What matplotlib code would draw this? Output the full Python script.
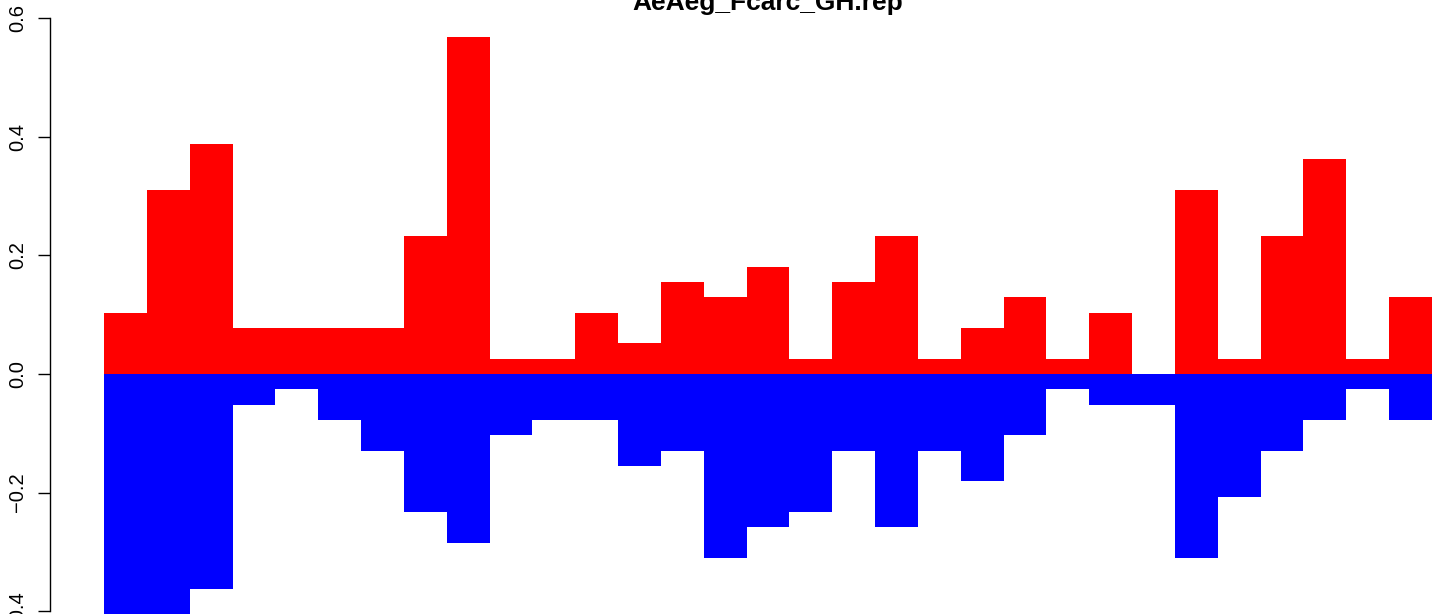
import matplotlib
matplotlib.use("Agg")
import matplotlib.pyplot as plt
import numpy as np

title = "AeAeg_Fcarc_GH.rep"
pos_vals = [0.103, 0.310, 0.388, 0.078, 0.078, 0.078, 0.078, 0.233, 0.568, 0.026,
            0.026, 0.103, 0.052, 0.155, 0.129, 0.181, 0.026, 0.155, 0.233, 0.026,
            0.078, 0.129, 0.026, 0.103, 0.0, 0.310, 0.026, 0.233, 0.362, 0.026, 0.129]
neg_vals = [-0.45, -0.45, -0.362, -0.052, -0.026, -0.078, -0.129, -0.233, -0.284, -0.103,
            -0.078, -0.078, -0.155, -0.129, -0.310, -0.258, -0.233, -0.129, -0.258, -0.129,
            -0.181, -0.103, -0.026, -0.052, -0.052, -0.310, -0.207, -0.129, -0.078, -0.026, -0.078]
yticks = [-0.4, -0.2, 0.0, 0.2, 0.4, 0.6]

W, H = 1433, 614
fig = plt.figure(figsize=(W / 100, H / 100), dpi=100)
plt.rcParams['font.family'] = ['Liberation Sans', 'DejaVu Sans']

px_per_unit = (374 - 18) / 0.6
ytop = 0.6 + 18 / px_per_unit
ybot = -(H - 374) / px_per_unit

x0 = 104
ax = fig.add_axes([x0 / W, 0, (1432 - x0) / W, 1])
n = len(pos_vals)
x = np.arange(n)
ax.bar(x, pos_vals, width=1.0, align='edge', color='#FF0000', linewidth=0)
ax.bar(x, neg_vals, width=1.0, align='edge', color='#0000FF', linewidth=0)
ax.set_xlim(0, n)
ax.set_ylim(ybot, ytop)

for s in ['top', 'right', 'bottom']:
    ax.spines[s].set_visible(False)
ax.spines['left'].set_position(('outward', (x0 - 50) * 72 / 100))
ax.spines['left'].set_bounds(-0.4, 0.6)
ax.spines['left'].set_linewidth(1.0)
ax.set_xticks([])
ax.set_yticks(yticks)
ax.set_yticklabels(['\u22120.4', '\u22120.2', '0.0', '0.2', '0.4', '0.6'],
                   rotation=90, va='center', fontsize=14.5)
ax.tick_params(axis='y', length=8.6, width=1.0, pad=8)

fig.text((x0 + 1432) / 2 / W, 1 - 10 / H, title, ha='center', va='baseline',
         fontsize=19, fontweight='bold')

fig.savefig("out.png", dpi=100)
